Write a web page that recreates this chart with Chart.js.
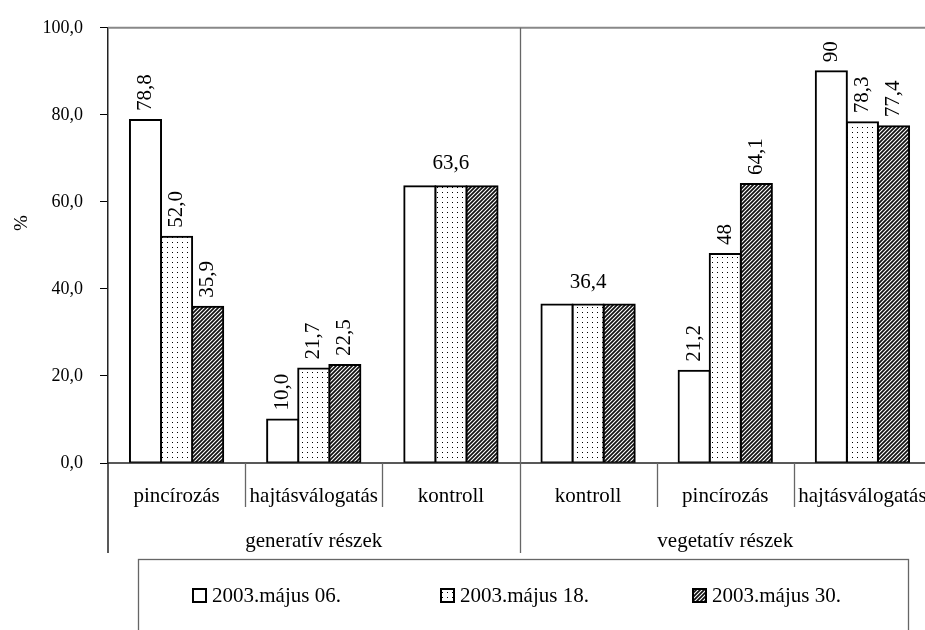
<!DOCTYPE html>
<html><head><meta charset="utf-8">
<script src="https://cdn.jsdelivr.net/npm/chart.js@4"></script>
<style>html,body{margin:0;padding:0;overflow:hidden;background:#fff;width:925px;height:630px}
canvas{display:block}</style></head>
<body><canvas id="c" width="940" height="640" style="width:940px;height:640px"></canvas>
<script>
const categories = ["pincírozás","hajtásválogatás","kontroll","kontroll","pincírozás","hajtásválogatás"];
const groups = ["generatív részek","vegetatív részek"];
const groupSizes = [3,3];
const seriesNames = ["2003.május 06.","2003.május 18.","2003.május 30."];
const may06 = [78.8,10.0,63.6,36.4,21.2,90];
const may18 = [52.0,21.7,63.6,36.4,48,78.3];
const may30 = [35.9,22.5,63.6,36.4,64.1,77.4];
const may06Labels = ["78,8","10,0","","","21,2","90"];
const may18Labels = ["52,0","21,7","","","48","78,3"];
const may30Labels = ["35,9","22,5","","","64,1","77,4"];
const groupValueLabels = ["","","63,6","36,4","",""];
const yTickLabels = ["0,0","20,0","40,0","60,0","80,0","100,0"];
const yTitle = "%";

const FONT = "'Liberation Serif', 'Times New Roman', serif";

function dotPattern(){
  const c=document.createElement('canvas');c.width=5;c.height=5;
  const x=c.getContext('2d');x.fillStyle='#fff';x.fillRect(0,0,5,5);
  x.fillStyle='#000';x.fillRect(2,2,1,1);
  return x.createPattern(c,'repeat');
}
function hatchPattern(){
  const c=document.createElement('canvas');c.width=4;c.height=4;
  const x=c.getContext('2d');x.fillStyle='#111';x.fillRect(0,0,4,4);
  x.strokeStyle='#fff';x.lineWidth=1.1;
  x.beginPath();
  x.moveTo(0,4);x.lineTo(4,0);
  x.moveTo(-1,1);x.lineTo(1,-1);
  x.moveTo(3,5);x.lineTo(5,3);
  x.stroke();
  return x.createPattern(c,'repeat');
}
const fills=['#ffffff',dotPattern(),hatchPattern()];
const seriesValues=[may06,may18,may30];
const seriesLabels=[may06Labels,may18Labels,may30Labels];

const decor={
  id:'decor',
  afterDatasetsDraw(chart){
    const ctx=chart.ctx;
    ctx.save();
    ctx.fillStyle='#000';
    ctx.font="21px "+FONT;
    seriesLabels.forEach((labs,d)=>{
      const meta=chart.getDatasetMeta(d);
      labs.forEach((t,i)=>{
        if(!t) return;
        const b=meta.data[i];
        ctx.save();
        ctx.translate(b.x,b.y-9);
        ctx.rotate(-Math.PI/2);
        ctx.textAlign='left';ctx.textBaseline='middle';
        ctx.fillText(t,0,0);
        ctx.restore();
      });
    });
    groupValueLabels.forEach((t,i)=>{
      if(!t) return;
      const b=chart.getDatasetMeta(1).data[i];
      ctx.textAlign='center';ctx.textBaseline='alphabetic';
      ctx.fillText(t,b.x,b.y-17);
    });
    ctx.restore();
  },
  afterDraw(chart){
    const ctx=chart.ctx, a=chart.chartArea, xs=chart.scales.x;
    ctx.save();
    ctx.strokeStyle='#888';ctx.lineWidth=2;
    ctx.beginPath();ctx.moveTo(a.left,a.top);ctx.lineTo(a.right,a.top);ctx.stroke();
    ctx.strokeStyle='#222';ctx.lineWidth=1.5;
    ctx.beginPath();ctx.moveTo(a.left,a.bottom);ctx.lineTo(a.right,a.bottom);ctx.stroke();
    ctx.beginPath();ctx.moveTo(a.left,a.bottom);ctx.lineTo(a.left,553);ctx.stroke();
    ctx.strokeStyle='#666';ctx.lineWidth=1.3;
    let acc=0; const groupEnds=[];
    groupSizes.forEach(s=>{acc+=s;groupEnds.push(acc);});
    for(let i=1;i<categories.length;i++){
      const x=Math.round((xs.getPixelForValue(i-1)+xs.getPixelForValue(i))/2)+0.5;
      ctx.beginPath();
      if(groupEnds.includes(i)){ctx.moveTo(x,a.top);ctx.lineTo(x,553);}
      else {ctx.moveTo(x,a.bottom);ctx.lineTo(x,507);}
      ctx.stroke();
    }
    ctx.fillStyle='#000';ctx.font="21px "+FONT;ctx.textAlign='center';ctx.textBaseline='alphabetic';
    categories.forEach((c,i)=>ctx.fillText(c,xs.getPixelForValue(i),502));
    let start=0;
    groups.forEach((g,k)=>{
      const end=start+groupSizes[k]-1;
      const x=(xs.getPixelForValue(start)+xs.getPixelForValue(end))/2;
      ctx.fillText(g,x,547);
      start=end+1;
    });
    ctx.save();ctx.translate(22,223);ctx.rotate(-Math.PI/2);
    ctx.textAlign='center';ctx.textBaseline='middle';ctx.font="19px "+FONT;
    ctx.fillText(yTitle,0,0);ctx.restore();
    ctx.strokeStyle='#666';ctx.lineWidth=1.3;
    ctx.strokeRect(138.5,559.5,770,100);
    const lx=[192,440,692];
    seriesNames.forEach((n,i)=>{
      ctx.fillStyle=fills[i];
      ctx.fillRect(lx[i],588,15,15);
      ctx.strokeStyle='#000';ctx.lineWidth=2;
      ctx.strokeRect(lx[i]+1,589,13,13);
      ctx.fillStyle='#000';ctx.textAlign='left';ctx.textBaseline='middle';
      ctx.font="21px "+FONT;
      ctx.fillText(n,lx[i]+20,596);
    });
    ctx.restore();
  }
};

new Chart(document.getElementById('c'),{
  type:'bar',
  data:{
    labels:categories,
    datasets:seriesValues.map((v,i)=>({
      label:seriesNames[i],data:v,backgroundColor:fills[i],
      borderColor:'#000',borderWidth:2,borderSkipped:false,inflateAmount:1,
      categoryPercentage:0.68,barPercentage:1.0
    }))
  },
  options:{
    responsive:false,animation:false,devicePixelRatio:1,
    layout:{padding:{left:0,top:24,right:9,bottom:177}},
    plugins:{legend:{display:false},tooltip:{enabled:false}},
    scales:{
      x:{display:false},
      y:{
        min:0,max:100,
        afterFit(s){s.width=108;},
        ticks:{stepSize:20,padding:17,color:'#000',font:{family:FONT,size:18},
          callback:(v)=>yTickLabels[Math.round(v/20)]},
        grid:{drawOnChartArea:false,drawTicks:true,tickLength:8,color:'#000',lineWidth:1},
        border:{display:true,color:'#222',width:1.5}
      }
    }
  },
  plugins:[decor]
});
</script></body></html>
